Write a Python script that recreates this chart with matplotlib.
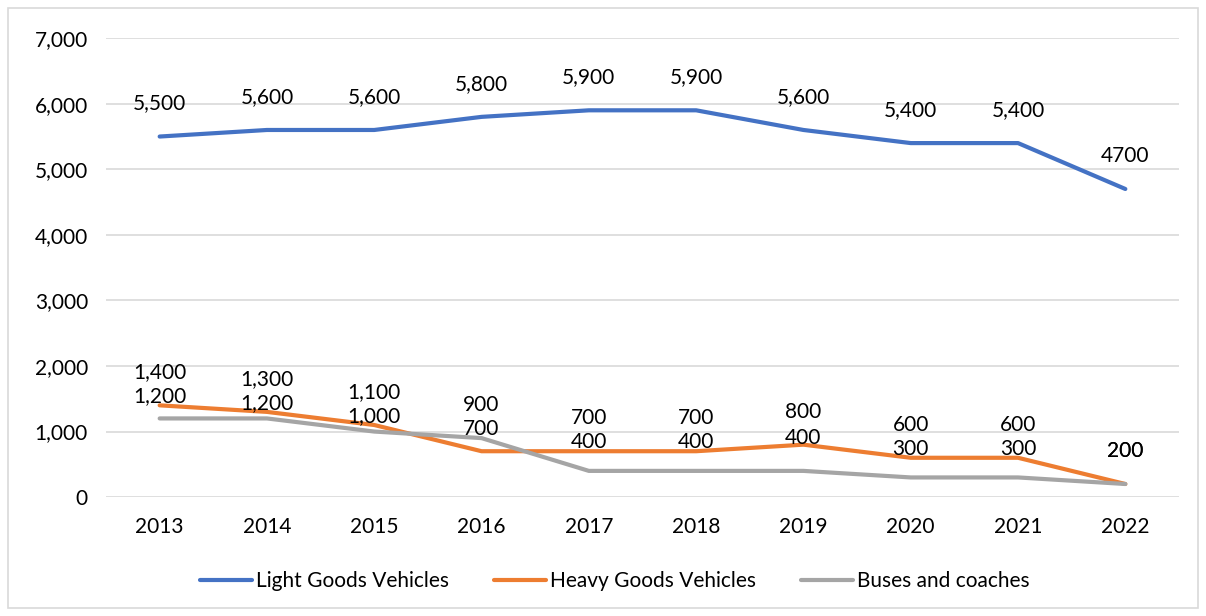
import matplotlib.pyplot as plt
from matplotlib.patches import Rectangle
from matplotlib.ticker import FuncFormatter

plt.rcParams['font.family'] = ['Lato', 'DejaVu Sans']

years = ["2013", "2014", "2015", "2016", "2017", "2018", "2019", "2020", "2021", "2022"]
light_goods = [5500, 5600, 5600, 5800, 5900, 5900, 5600, 5400, 5400, 4700]
heavy_goods = [1400, 1300, 1100, 700, 700, 700, 800, 600, 600, 200]
buses = [1200, 1200, 1000, 900, 400, 400, 400, 300, 300, 200]
light_labels = ["5,500", "5,600", "5,600", "5,800", "5,900", "5,900", "5,600", "5,400", "5,400", "4700"]

FS = 15
fig = plt.figure(figsize=(12.06, 6.16), dpi=100)
ax = fig.add_axes([0.0879, 0.193, 0.8897, 0.745])

# outer chart border
fig.patches.append(Rectangle((8 / 1206, 8 / 616), 1190 / 1206, 600 / 616,
                             transform=fig.transFigure, fill=False,
                             edgecolor="#d9d9d9", linewidth=1.2))

x = list(range(len(years)))
series = [
    (light_goods, "#4472c4", "Light Goods Vehicles"),
    (heavy_goods, "#ed7d31", "Heavy Goods Vehicles"),
    (buses, "#a5a5a5", "Buses and coaches"),
]
for vals, col, name in series:
    ax.plot(x, vals, color=col, linewidth=3.0, label=name, solid_capstyle="round")

off = 23.8            # label offset above point, in points
gap = 17.3            # minimum spacing between stacked labels, in points
k = (459 / 7000) * 72 / 100   # points per data unit

for i, v in enumerate(light_goods):
    ax.annotate(light_labels[i], (i, v), xytext=(0, off), textcoords="offset points",
                ha="center", va="center", fontsize=FS)

for i in x:
    hi, lo = max(heavy_goods[i], buses[i]), min(heavy_goods[i], buses[i])
    ax.annotate(f"{hi:,}", (i, hi), xytext=(0, off), textcoords="offset points",
                ha="center", va="center", fontsize=FS)
    lo_off = off if hi == lo else min(off, (hi - lo) * k + off - gap)
    ax.annotate(f"{lo:,}", (i, lo), xytext=(0, lo_off), textcoords="offset points",
                ha="center", va="center", fontsize=FS)

ax.set_xlim(-0.5, len(years) - 0.5)
ax.set_ylim(0, 7000)
ax.set_yticks(range(0, 7001, 1000))
ax.yaxis.set_major_formatter(FuncFormatter(lambda v, p: f"{int(v):,}"))
ax.set_xticks(x)
ax.set_xticklabels(years)
ax.tick_params(axis="both", length=0, labelsize=FS, colors="#000000")
ax.tick_params(axis="y", pad=13)
ax.tick_params(axis="x", pad=14)
ax.grid(axis="y", color="#d9d9d9", linewidth=1.2)
ax.set_axisbelow(True)
for s in ax.spines.values():
    s.set_visible(False)

ax.legend(loc="center", bbox_to_anchor=(0.474, -0.183), ncol=3, frameon=False,
          fontsize=FS, handlelength=2.5, handletextpad=0.2, columnspacing=2.15)

fig.savefig("out.png", dpi=100)
